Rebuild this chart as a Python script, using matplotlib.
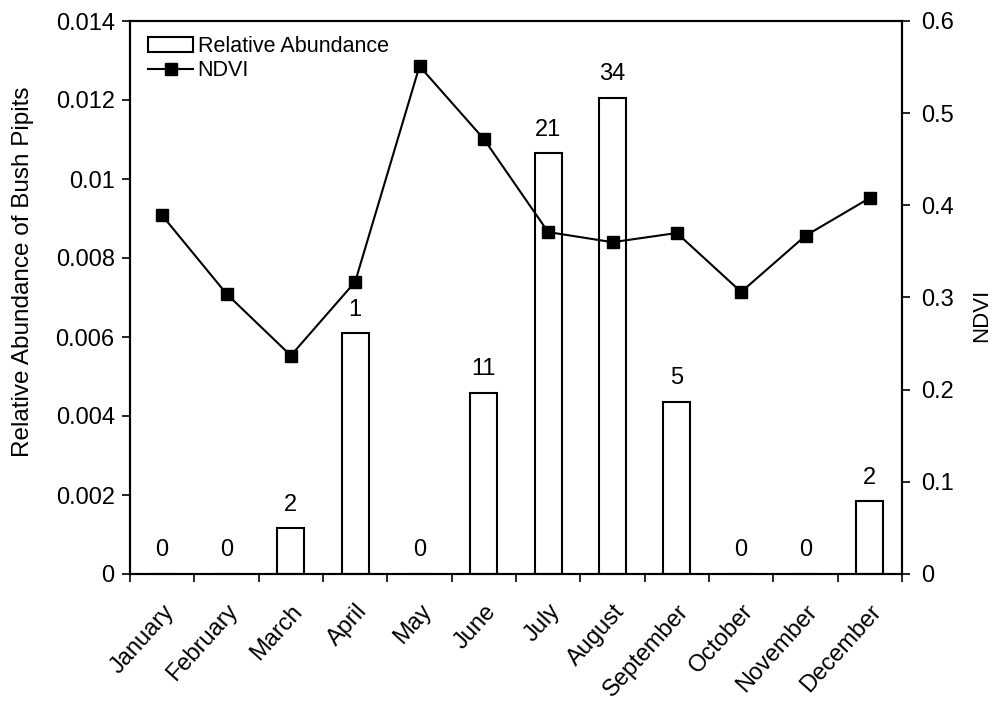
import matplotlib
matplotlib.use("Agg")
import matplotlib.pyplot as plt
import numpy as np
from matplotlib.ticker import FixedLocator, NullFormatter

plt.rcParams['font.family'] = ['Liberation Sans', 'DejaVu Sans']

months = ["January", "February", "March", "April", "May", "June", "July",
          "August", "September", "October", "November", "December"]
abundance = [0, 0, 0.00116, 0.0061, 0, 0.00459, 0.01065, 0.01206, 0.00436, 0, 0, 0.00184]
counts = ["0", "0", "2", "1", "0", "11", "21", "34", "5", "0", "0", "2"]
ndvi = [0.389, 0.304, 0.237, 0.317, 0.551, 0.472, 0.371, 0.360, 0.370, 0.306, 0.367, 0.408]

FS = 17

fig = plt.figure(figsize=(9.94, 7.02), dpi=100)
ax = fig.add_axes([130/994, 1-574/702, 772/994, 553/702])
x = np.arange(len(months))
bars = ax.bar(x, abundance, width=0.42, facecolor='white', edgecolor='black',
              linewidth=1.5, label='Relative Abundance', zorder=2)
ax.set_xlim(-0.5, 11.5)
ax.set_ylim(0, 0.014)
ax.set_yticks(np.arange(0, 0.0141, 0.002))
ax.set_yticklabels(["0", "0.002", "0.004", "0.006", "0.008", "0.01", "0.012", "0.014"])
ax.set_xticks(x)
ax.set_xticklabels(months, rotation=48, ha='right', rotation_mode='anchor')
ax.tick_params(axis='x', which='major', length=0, labelsize=FS, pad=19)
ax.xaxis.set_minor_locator(FixedLocator(np.arange(-0.5, 12, 1)))
ax.xaxis.set_minor_formatter(NullFormatter())
ax.tick_params(axis='x', which='minor', length=6, width=1.2, direction='out')
ax.tick_params(axis='y', length=6, width=1.2, direction='out', labelsize=FS, pad=5)
ax.set_ylabel("Relative Abundance of Bush Pipits", fontsize=17.5)
ax.yaxis.set_label_coords(-0.124, 0.546)
for s in ax.spines.values():
    s.set_linewidth(1.5)

for xi, v, c in zip(x, abundance, counts):
    ax.annotate(c, (xi, v), xytext=(0, 9), textcoords='offset points',
                ha='center', va='bottom', fontsize=FS)

ax2 = ax.twinx()
line, = ax2.plot(x, ndvi, color='black', marker='s', markersize=8.5, linewidth=1.5,
                 label='NDVI', zorder=3)
ax2.set_ylim(0, 0.6)
ax2.set_yticks(np.arange(0, 0.61, 0.1))
ax2.set_yticklabels(["0", "0.1", "0.2", "0.3", "0.4", "0.5", "0.6"])
ax2.tick_params(axis='y', length=6, width=1.2, direction='out', labelsize=FS, pad=8)
ax2.set_ylabel("NDVI", fontsize=16)
ax2.yaxis.set_label_coords(1.089, 0.467)
for s in ax2.spines.values():
    s.set_linewidth(1.5)

ax.legend([bars, line], ['Relative Abundance', 'NDVI'], loc='upper left',
          frameon=False, fontsize=15.5, handlelength=2.1, handletextpad=0.2,
          borderaxespad=0.0, labelspacing=0.15, borderpad=0.0,
          bbox_to_anchor=(18/772, 1 - 15/553))

fig.savefig("out.png", dpi=100)
